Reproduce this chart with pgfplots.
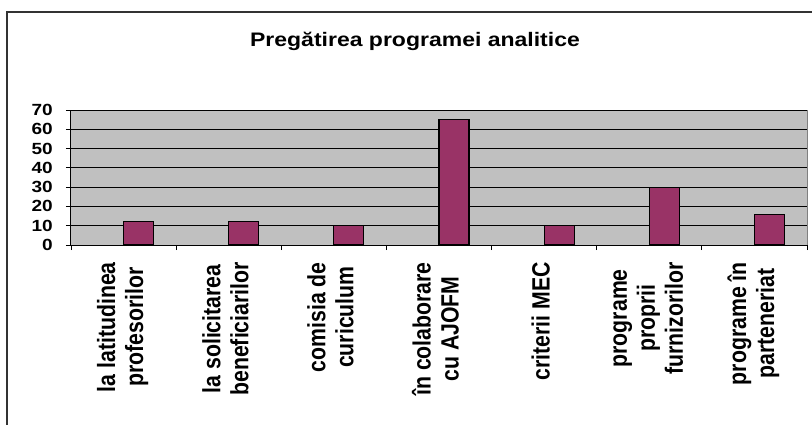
\documentclass[border=0pt]{standalone}
\usepackage{fontspec}
\setmainfont{Liberation Sans}
\usepackage{graphicx}
\usepackage{pgfplots}
\pgfplotsset{compat=1.18}
\definecolor{barcol}{HTML}{993366}
\definecolor{plotbg}{HTML}{C0C0C0}
\definecolor{plotborder}{HTML}{808080}
\newcommand\xl[1]{\scalebox{0.85}[1]{\begin{tabular}{@{}c@{}}#1\end{tabular}}}
\newcommand\yl[1]{\scalebox{1}[0.85]{#1}}
\begin{document}
\begin{tikzpicture}[x=1pt,y=1pt]
\useasboundingbox (0,0) rectangle (812,424);
\draw[line width=1.3pt, black!80] (7,-5) -- (7,412) -- (820,412);
\node[anchor=base, font=\fontsize{23}{27}\selectfont\bfseries, inner sep=0pt] at (415,377) {\yl{Pregătirea programei analitice}};
\begin{axis}[
  at={(71pt,179pt)}, anchor=south west,
  scale only axis, width=736pt, height=135pt,
  xmin=-0.5, xmax=6.5, ymin=0, ymax=70,
  axis background/.style={fill=plotbg, draw=plotborder, line width=1pt},
  axis x line*=bottom, axis y line*=left,
  axis line style={black, line width=1pt, -},
  xtick={-0.5,0.5,1.5,2.5,3.5,4.5,5.5,6.5},
  x tick label as interval,
  xticklabels={
    {\xl{la latitudinea\\profesorilor}},
    {\xl{la solicitarea\\beneficiarilor}},
    {\xl{comisia de\\curiculum}},
    {\xl{în colaborare\\cu AJOFM}},
    {\xl{criterii MEC}},
    {\xl{programe\\proprii\\furnizorilor}},
    {\xl{programe în\\parteneriat}}},
  xticklabel style={yshift=-12pt, rotate=90, anchor=east, inner sep=0pt,
    font=\fontsize{25}{28}\selectfont\bfseries},
  ytick={0,10,20,30,40,50,60,70},
  yticklabels={\yl{0},\yl{10},\yl{20},\yl{30},\yl{40},\yl{50},\yl{60},\yl{70}},
  yticklabel style={xshift=-13pt, anchor=east, inner sep=0pt,
    font=\fontsize{19}{21}\selectfont\bfseries},
  tick align=outside, major tick length=5pt,
  tick style={black, line width=0.8pt},
  ymajorgrids, major grid style={black, line width=0.8pt},
  clip=false,
]
\addplot[ybar, bar width=0.285714, fill=barcol, draw=black, line width=1.2pt]
  coordinates {(0.142857,12) (1.142857,12) (2.142857,10) (3.142857,65) (4.142857,10) (5.142857,30) (6.142857,16)};
\end{axis}
\end{tikzpicture}
\end{document}
